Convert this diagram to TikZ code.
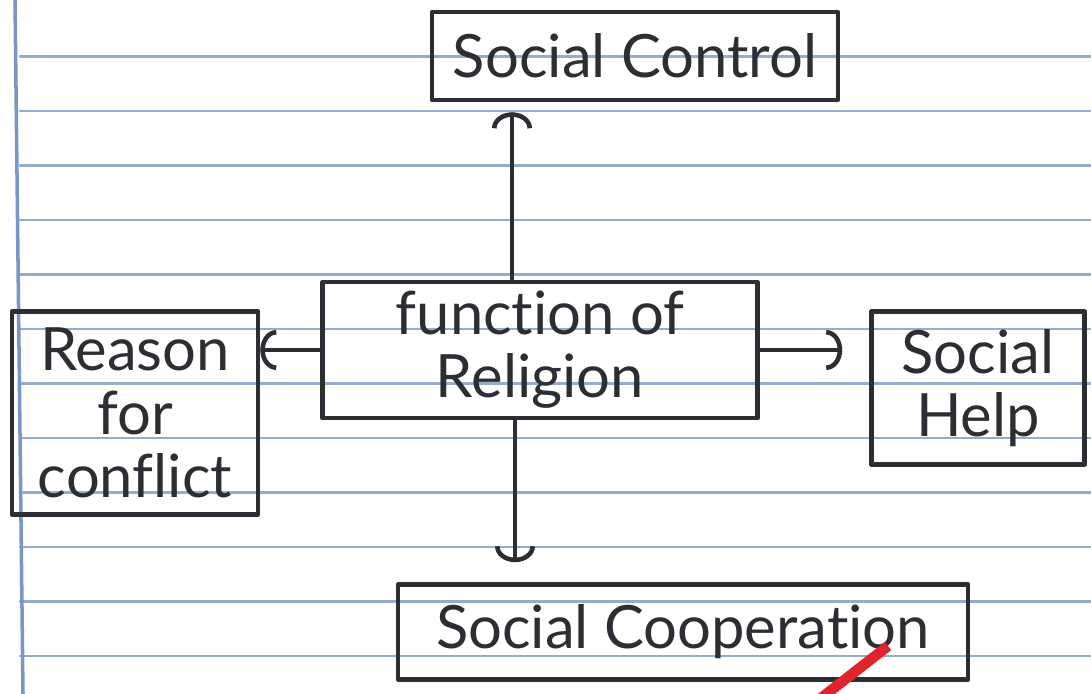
\documentclass[tikz,border=0pt]{standalone}
\usepackage{fontspec}
\setmainfont{Lato}[Ligatures=NoCommon]
\usetikzlibrary{arrows.meta}
\definecolor{rule}{RGB}{150,172,205}
\definecolor{margin}{RGB}{120,150,200}
\definecolor{ink}{RGB}{45,45,52}
\definecolor{redpen}{RGB}{225,35,45}
\tikzset{
  box/.style={draw=ink, line width=1.3pt, inner sep=2pt, align=center, text=ink,
    font=\fontsize{17}{18}\selectfont},
  link/.style={draw=ink, line width=1.3pt, ->},
}
\begin{document}
\begin{tikzpicture}[>={Arc Barb[length=1.6mm,width=4mm]}, line join=round, line cap=round]
	\useasboundingbox (0,0) rectangle (10.91,6.94);
	\clip (0,0) rectangle (10.91,6.94);
	% ruled sheet
	\foreach \y in {0.38,0.925,...,6.4}
	{
		\draw[rule, line width=0.8pt] (0.2,\y) -- (10.91,\y);
	}
	\draw[margin, line width=1pt] (0.23,0) -- (0.15,6.94);
	
	\node[box, minimum width=4.06cm, minimum height=0.88cm] (ctrl) at (6.35,6.38) {Social Control};
	\node[box, minimum width=4.35cm, minimum height=1.36cm] (rel) at (5.40,3.44) {function of\\Religion};
	\node[box, minimum width=2.46cm, minimum height=2.03cm] (rsn) at (1.35,2.81) {Reason\\for\\conflict};
	\node[box, minimum width=2.13cm, minimum height=1.53cm] (help) at (9.78,3.06) {Social\\Help};
	\node[box, minimum width=5.70cm, minimum height=0.95cm] (coop) at (6.83,0.62) {Social Cooperation};
	
	\draw[link, shorten >=1mm] ([xshift=-2.8mm]rel.north) -- ([xshift=-2.8mm]rel.north |- ctrl.south);
	\draw[link] (rel.west) -- (rel.west -| rsn.east);
	\draw[link, shorten >=2.7mm] (rel.east) -- (rel.east -| help.west);
	\draw[link, shorten >=2mm] ([xshift=-2.5mm]rel.south) -- ([xshift=-2.5mm]rel.south |- coop.north);
	
	% red pen stroke
	\draw[redpen, line width=3pt, line cap=butt] (8.88,0.48) -- (8.20,-0.05);
\end{tikzpicture}
\end{document}
